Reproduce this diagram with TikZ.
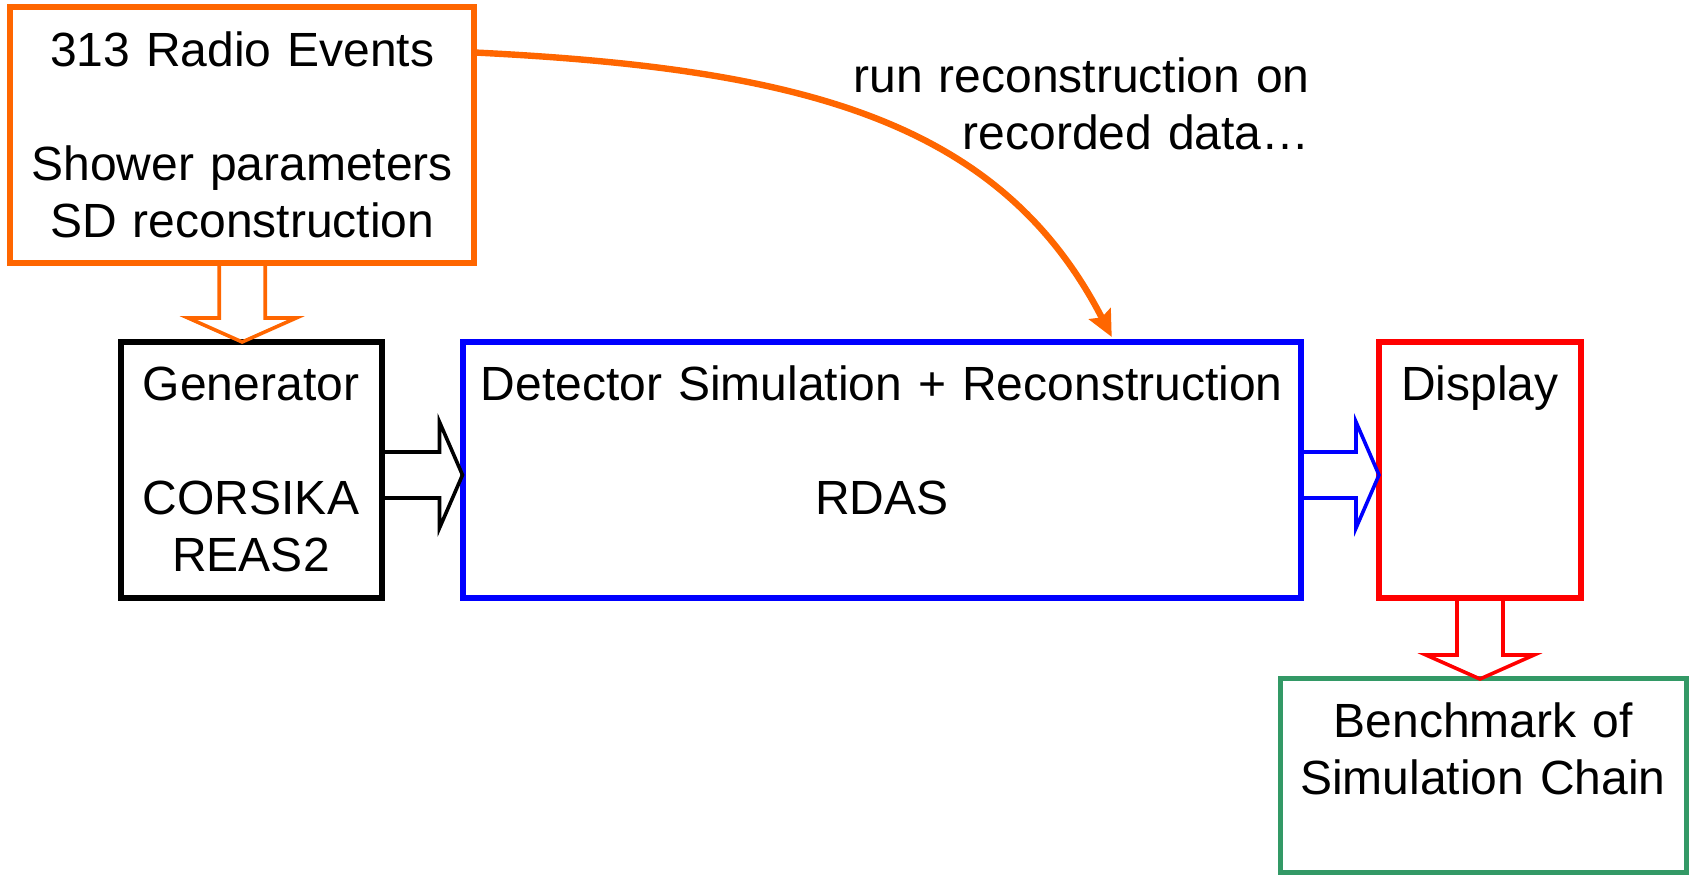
\documentclass[tikz,border=0pt]{standalone}
\usepackage{fontspec}
\setmainfont{Liberation Sans}
\usepackage{tikz}
\usetikzlibrary{arrows.meta, positioning}

\definecolor{evorange}{RGB}{255,102,0}
\definecolor{benchgreen}{RGB}{51,153,102}

\begin{document}
\begin{tikzpicture}[
    font=\fontsize{24pt}{28.5pt}\selectfont,
    block/.style={draw, line width=3pt, inner sep=0pt, outer sep=0pt, align=center, text height=29.5pt},
    hollow/.style={draw=#1, line width=1.8pt, line join=miter},
    flow/.style={-{Stealth[length=13pt, width=12pt, inset=2pt]}, line width=3.2pt, evorange}
]
    \useasboundingbox (0,0) rectangle (847pt,-438pt);

    \node[block, text width=130.5pt, text depth=98.5pt, anchor=north west] (gen) at (60.25pt,-171pt) {Generator\\[\baselineskip]CORSIKA\\REAS2};
    \node[block, draw=blue, text width=419.25pt, text depth=98.5pt, right=40.5pt of gen] (detsim) {Detector Simulation + Reconstruction\\[\baselineskip]RDAS};
    \node[block, draw=red, text width=101pt, text depth=98.5pt, right=39pt of detsim] (display) {Display};
    \node[block, draw=evorange, text width=232.25pt, text depth=98.25pt, above=39.5pt of gen, xshift=-4.4pt] (events) {313 Radio Events\\[\baselineskip]Shower parameters\\SD reconstruction};
    \node[block, draw=benchgreen, line width=2.5pt, text width=203pt, text depth=67.5pt, below=40.5pt of display, xshift=1.5pt] (bench) {Benchmark of\\Simulation Chain};

    \node[text width=230pt, align=right, inner sep=0pt, anchor=base east] (note) at (655pt,-46.5pt) {run reconstruction on\\recorded data…};

    % block arrows
    \coordinate (tipA) at (events.south |- gen.north);
    \coordinate (tipB) at ([yshift=-2.5pt]detsim.west);
    \coordinate (tipC) at ([yshift=-2.5pt]display.west);
    \coordinate (tipD) at (display.south |- bench.north);

    \draw[hollow=evorange] ([xshift=-11.5pt]events.south) -- ([shift={(-11.5pt,12pt)}]tipA) -- ([shift={(-27pt,12pt)}]tipA) -- (tipA)
        -- ([shift={(27pt,12pt)}]tipA) -- ([shift={(11.5pt,12pt)}]tipA) -- ([xshift=11.5pt]events.south);
    \draw[hollow=black] ([yshift=9pt]gen.east) -- ([shift={(-11.5pt,11.5pt)}]tipB) -- ([shift={(-11.5pt,26.5pt)}]tipB) -- (tipB)
        -- ([shift={(-11.5pt,-26.5pt)}]tipB) -- ([shift={(-11.5pt,-11.5pt)}]tipB) -- ([yshift=-14pt]gen.east);
    \draw[hollow=blue] ([yshift=9pt]detsim.east) -- ([shift={(-11.5pt,11.5pt)}]tipC) -- ([shift={(-11.5pt,26.5pt)}]tipC) -- (tipC)
        -- ([shift={(-11.5pt,-26.5pt)}]tipC) -- ([shift={(-11.5pt,-11.5pt)}]tipC) -- ([yshift=-14pt]detsim.east);
    \draw[hollow=red] ([xshift=-11.5pt]display.south) -- ([shift={(-11.5pt,12pt)}]tipD) -- ([shift={(-27pt,12pt)}]tipD) -- (tipD)
        -- ([shift={(27pt,12pt)}]tipD) -- ([shift={(11.5pt,12pt)}]tipD) -- ([xshift=11.5pt]display.south);

    % run on data
    \draw[flow] ([yshift=-22.5pt]events.north east) .. controls +(162.5pt,-8pt) and +(-56pt,109pt) .. ([shift={(115pt,2.5pt)}]detsim.north);
\end{tikzpicture}
\end{document}
